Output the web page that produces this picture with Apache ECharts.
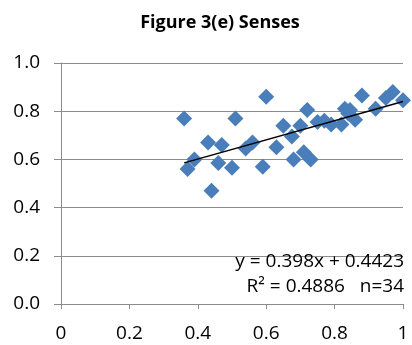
<!DOCTYPE html>
<html>
<head>
<meta charset="utf-8">
<script src="https://cdn.jsdelivr.net/npm/echarts@6/dist/echarts.min.js"></script>
<style>
  html, body { margin: 0; padding: 0; background: #fff; }
  #chart { width: 412px; height: 345px; }
</style>
</head>
<body>
<div id="chart"></div>
<script>
// Scatter of observations (x, y)
var xValues = [0.36, 0.37, 0.39, 0.43, 0.44, 0.47, 0.46, 0.50, 0.51, 0.54,
               0.56, 0.59, 0.60, 0.63, 0.65, 0.675, 0.68, 0.70, 0.71, 0.73,
               0.72, 0.75, 0.77, 0.79, 0.82, 0.83, 0.845, 0.86, 0.88, 0.92,
               0.95, 0.97, 1.00, 0.84];
var yValues = [0.77, 0.56, 0.60, 0.67, 0.47, 0.66, 0.585, 0.565, 0.77, 0.645,
               0.67, 0.57, 0.86, 0.65, 0.74, 0.695, 0.60, 0.74, 0.63, 0.60,
               0.805, 0.755, 0.76, 0.745, 0.745, 0.81, 0.805, 0.765, 0.865, 0.81,
               0.855, 0.88, 0.845, 0.79];

// Linear trendline reported for the data
var slope = 0.398;
var intercept = 0.4423;
var rSquared = 0.4886;
var sampleSize = 34;

var chartTitle = 'Figure 3(e) Senses';
var yTickLabels = ['0.0', '0.2', '0.4', '0.6', '0.8', '1.0'];
var xTickLabels = ['0', '0.2', '0.4', '0.6', '0.8', '1'];

var points = xValues.map(function (x, i) { return [x, yValues[i]]; });
var xMin = Math.min.apply(null, xValues);
var xMax = Math.max.apply(null, xValues);
var trend = [[xMin, slope * xMin + intercept], [xMax, slope * xMax + intercept]];

var FONT = '"Open Sans", sans-serif';
var chart = echarts.init(document.getElementById('chart'), null, { renderer: 'canvas' });

chart.setOption({
  backgroundColor: '#ffffff',
  animation: false,
  title: {
    text: chartTitle,
    left: 215, top: 9, textAlign: 'center',
    textStyle: { fontFamily: FONT, fontWeight: 'bold', fontSize: 18, color: '#000' }
  },
  grid: { left: 61, right: 9, top: 63, bottom: 41, containLabel: false },
  xAxis: {
    type: 'value', min: 0, max: 1, interval: 0.2,
    axisLine: { show: true, lineStyle: { color: '#8c8c8c', width: 1 } },
    axisTick: { show: true, length: 5, lineStyle: { color: '#8c8c8c' } },
    splitLine: { show: false },
    axisLabel: {
      margin: 20, color: '#000', fontFamily: FONT, fontSize: 19,
      formatter: function (v) { return xTickLabels[Math.round(v / 0.2)]; }
    }
  },
  yAxis: {
    type: 'value', min: 0, max: 1, interval: 0.2,
    axisLine: { show: true, lineStyle: { color: '#8c8c8c', width: 1 } },
    axisTick: { show: true, length: 7, lineStyle: { color: '#8c8c8c' } },
    splitLine: { show: true, lineStyle: { color: '#8c8c8c', width: 1 } },
    axisLabel: {
      margin: 21, color: '#000', fontFamily: FONT, fontSize: 19,
      formatter: function (v) { return yTickLabels[Math.round(v / 0.2)]; }
    }
  },
  series: [
    {
      type: 'scatter',
      data: points,
      symbol: 'diamond',
      symbolSize: 16,
      itemStyle: { color: '#4a7ebb', opacity: 1 },
      z: 2
    },
    {
      type: 'line',
      data: trend,
      symbol: 'none',
      lineStyle: { color: '#000', width: 1.5 },
      z: 3
    }
  ],
  graphic: [
    {
      type: 'text', right: 8, top: 252, z: 10,
      style: {
        text: 'y = ' + slope + 'x + ' + intercept,
        fontFamily: FONT, fontSize: 19, fill: '#000', textAlign: 'right'
      }
    },
    {
      type: 'text', right: 8, top: 277, z: 10,
      style: {
        text: 'R² = ' + rSquared + '   n=' + sampleSize,
        fontFamily: FONT, fontSize: 19, fill: '#000', textAlign: 'right'
      }
    }
  ]
});
</script>
</body>
</html>
